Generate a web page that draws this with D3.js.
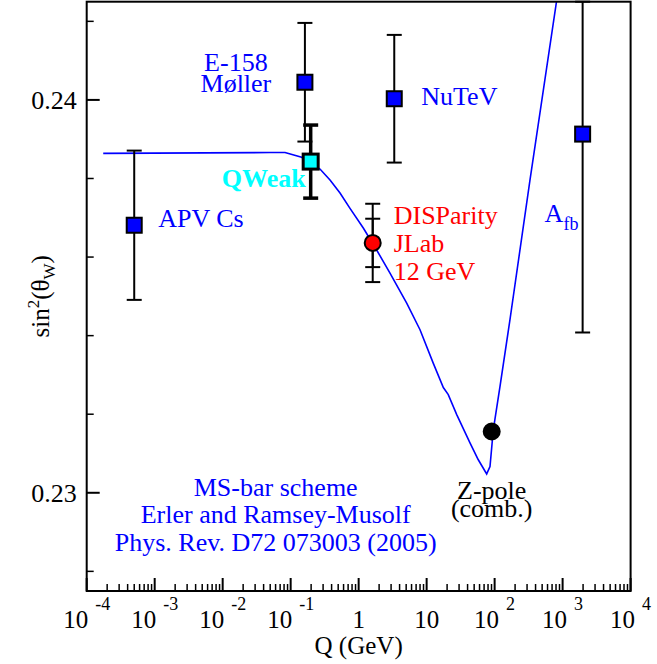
<!DOCTYPE html>
<html>
<head>
<meta charset="utf-8">
<script src="https://cdn.jsdelivr.net/npm/d3@7"></script>
<style>
  body { margin: 0; background: #fff; }
  text { font-family: "Liberation Serif", "Times New Roman", serif; }
</style>
</head>
<body>
<div id="chart"></div>
<script>
// running weak mixing angle

// theory curve (MS-bar)
var curveQ = [1.75e-4, 0.0497, 0.0826, 0.145, 0.270, 0.379, 0.532, 0.746, 1.17, 1.84, 2.89, 5.09,
  7.99, 12.5, 17.6, 20.8, 27.7, 43.4, 57.5, 76.4, 85.5, 95.6, 120, 168, 331, 915];
var curveS = [0.23864, 0.23866, 0.23866, 0.23854, 0.23824, 0.23796, 0.23763, 0.23724, 0.23674, 0.23618,
  0.23559, 0.23483, 0.23415, 0.23330, 0.23268, 0.23250, 0.23199, 0.23127, 0.23084, 0.23048, 0.23067,
  0.23160, 0.23271, 0.23440, 0.23796, 0.24310];

// measurements
var expNames = ["APV Cs", "E-158", "QWeak", "NuTeV", "DISParity", "Afb", "Z-pole"];
var expQ     = [5.0e-4, 0.162, 0.197, 3.34, 1.61, 1970, 90.6];
var expS     = [0.23681, 0.24045, 0.23843, 0.24003, 0.23636, 0.23913, 0.23156];
var expErr   = [0.0019, 0.00151, 0.00093, 0.001625, 0.000997, 0.00505, 0];
var expErrIn = [0, 0, 0, 0, 0.000616, 0, 0];

// axis ticks
var xMajor = [-4, -3, -2, -1, 0, 1, 2, 3, 4];
var yMajor = [0.23, 0.24];
var yMinor = [0.228, 0.232, 0.234, 0.236, 0.238, 0.242];

var margin = {top: 1.7, right: 26.4, bottom: 73, left: 86.7};
var width = 657 - margin.left - margin.right,
    height = 664 - margin.top - margin.bottom;

var svg = d3.select("#chart").append("svg")
    .attr("width", 657)
    .attr("height", 664)
  .append("g")
    .attr("transform", "translate(" + margin.left + "," + margin.top + ")");

var x = d3.scaleLog().domain([1e-4, 1e4]).range([0, width]);
var y = d3.scaleLinear().domain([0.2275, 0.2425]).range([height, 0]);
var yc = y.copy().clamp(true);

var blue = "#0000ff", cyan = "#00ffff", red = "#ff0000";

svg.append("clipPath").attr("id", "clip")
  .append("rect").attr("width", width).attr("height", height);

// ******* AXES *******
// x ticks: majors on decades, minors 2..9
var xMinor = [];
xMajor.slice(0, -1).forEach(function(e) {
  for (var k = 2; k <= 9; k++) xMinor.push(k * Math.pow(10, e));
});
svg.selectAll(".xmin").data(xMinor).enter().append("line")
  .attr("x1", function(d) { return x(d); }).attr("x2", function(d) { return x(d); })
  .attr("y1", height).attr("y2", height - 7)
  .attr("stroke", "#000").attr("stroke-width", 1.5);
svg.selectAll(".xmaj").data(xMajor).enter().append("line")
  .attr("x1", function(d) { return x(Math.pow(10, d)); }).attr("x2", function(d) { return x(Math.pow(10, d)); })
  .attr("y1", height).attr("y2", height - 13)
  .attr("stroke", "#000").attr("stroke-width", 2);

var xl = svg.selectAll(".xlab").data(xMajor).enter().append("text")
  .attr("x", function(d) { return x(Math.pow(10, d)); })
  .attr("y", height + 37)
  .attr("text-anchor", "middle")
  .style("font-size", "25px");
xl.append("tspan").text(function(d) { return d == 0 ? "1" : "10"; });
xl.filter(function(d) { return d != 0 && d != 1; })
  .append("tspan")
  .attr("dx", 7).attr("dy", -18)
  .style("font-size", "18px")
  .text(function(d) { return d; });

// y ticks
svg.selectAll(".ymin").data(yMinor).enter().append("line")
  .attr("x1", 0).attr("x2", 7)
  .attr("y1", function(d) { return y(d); }).attr("y2", function(d) { return y(d); })
  .attr("stroke", "#000").attr("stroke-width", 1.5);
svg.selectAll(".ymaj").data(yMajor).enter().append("line")
  .attr("x1", 0).attr("x2", 13)
  .attr("y1", function(d) { return y(d); }).attr("y2", function(d) { return y(d); })
  .attr("stroke", "#000").attr("stroke-width", 2);
svg.selectAll(".ylab").data(yMajor).enter().append("text")
  .attr("x", -10)
  .attr("y", function(d) { return y(d) + 9; })
  .attr("text-anchor", "end")
  .style("font-size", "26px")
  .text(function(d) { return d3.format(".2f")(d); });

// axis titles
svg.append("text")
  .attr("x", width / 2).attr("y", height + 63)
  .attr("text-anchor", "middle")
  .style("font-size", "25px")
  .text("Q (GeV)");

var yt = svg.append("text")
  .attr("transform", "translate(-38," + (height / 2) + ") rotate(-90)")
  .attr("text-anchor", "middle")
  .style("font-size", "25px");
yt.append("tspan").text("sin");
yt.append("tspan").attr("dy", -10).style("font-size", "17px").text("2");
yt.append("tspan").attr("dy", 10).text("(\u03b8");
yt.append("tspan").attr("dy", 6).style("font-size", "17px").text("W");
yt.append("tspan").attr("dy", -6).text(")");

// ******* THEORY CURVE *******
var curve = curveQ.map(function(q, i) { return {q: q, s: curveS[i]}; });
svg.append("path")
  .datum(curve)
  .attr("clip-path", "url(#clip)")
  .attr("fill", "none")
  .attr("stroke", blue)
  .attr("stroke-width", 1.6)
  .attr("d", d3.line().x(function(d) { return x(d.q); }).y(function(d) { return y(d.s); }));

// ******* DATA POINTS *******
var pts = expNames.map(function(n, i) {
  return {name: n, q: expQ[i], s: expS[i], err: expErr[i], errIn: expErrIn[i]};
});

function errBar(d, e, sw) {
  var cx = x(d.q);
  var g = svg.append("g").attr("stroke", "#000").attr("stroke-width", sw);
  g.append("line").attr("x1", cx).attr("x2", cx)
    .attr("y1", yc(d.s + e)).attr("y2", yc(d.s - e));
  [d.s + e, d.s - e].forEach(function(v) {
    g.append("line").attr("x1", cx - 7.5).attr("x2", cx + 7.5)
      .attr("y1", yc(v)).attr("y2", yc(v));
  });
}

pts.forEach(function(d) {
  if (d.err > 0) errBar(d, d.err, d.name == "QWeak" ? 3.5 : 2);
  if (d.errIn > 0) errBar(d, d.errIn, 2);
});

pts.forEach(function(d) {
  var cx = x(d.q), cy = y(d.s);
  if (d.name == "DISParity" || d.name == "Z-pole") {
    svg.append("circle").attr("cx", cx).attr("cy", cy).attr("r", 8)
      .attr("fill", d.name == "Z-pole" ? "#000" : red)
      .attr("stroke", "#000").attr("stroke-width", 2);
  } else {
    var qw = d.name == "QWeak";
    svg.append("rect").attr("x", cx - 7.5).attr("y", cy - 7.5)
      .attr("width", 15).attr("height", 15)
      .attr("fill", qw ? cyan : blue)
      .attr("stroke", "#000").attr("stroke-width", qw ? 3 : 2);
  }
});

// ******* LABELS *******
function label(d, dx, dy, lines, color, anchor, lh) {
  var t = svg.append("text")
    .attr("x", x(d.q) + dx).attr("y", y(d.s) + dy)
    .attr("text-anchor", anchor)
    .attr("fill", color)
    .style("font-size", "26px");
  lines.forEach(function(l, i) {
    t.append("tspan").attr("x", x(d.q) + dx).attr("dy", i == 0 ? 0 : lh).text(l);
  });
  return t;
}
label(pts[0], 24, 1.5, ["APV Cs"], blue, "start", 0);
label(pts[1], -69, -11, ["E-158", "M\u00f8ller"], blue, "middle", 21);
label(pts[2], -5, 25, ["QWeak"], cyan, "end", 0).style("font-weight", "bold");
label(pts[3], 27, 6, ["NuTeV"], blue, "start", 0);
label(pts[4], 21, -19, ["DISParity", "JLab", "12 GeV"], red, "start", 28);
label(pts[6], 0, 68, ["Z-pole", "(comb.)"], "#000", "middle", 18);

var afb = svg.append("text")
  .attr("x", x(pts[5].q) - 38).attr("y", y(pts[5].s) + 88)
  .attr("fill", blue)
  .style("font-size", "26px");
afb.append("tspan").text("A");
afb.append("tspan").attr("dy", 8).style("font-size", "18px").text("fb");

var note = svg.append("text")
  .attr("x", 189).attr("y", 494)
  .attr("text-anchor", "middle")
  .attr("fill", blue)
  .style("font-size", "26px");
["MS-bar scheme", "Erler and Ramsey-Musolf", "Phys. Rev. D72 073003 (2005)"].forEach(function(l, i) {
  note.append("tspan").attr("x", 189).attr("dy", i == 0 ? 0 : 27.5).text(l);
});

// frame
svg.append("rect")
  .attr("width", width).attr("height", height)
  .attr("fill", "none").attr("stroke", "#000").attr("stroke-width", 2);
</script>
</body>
</html>
